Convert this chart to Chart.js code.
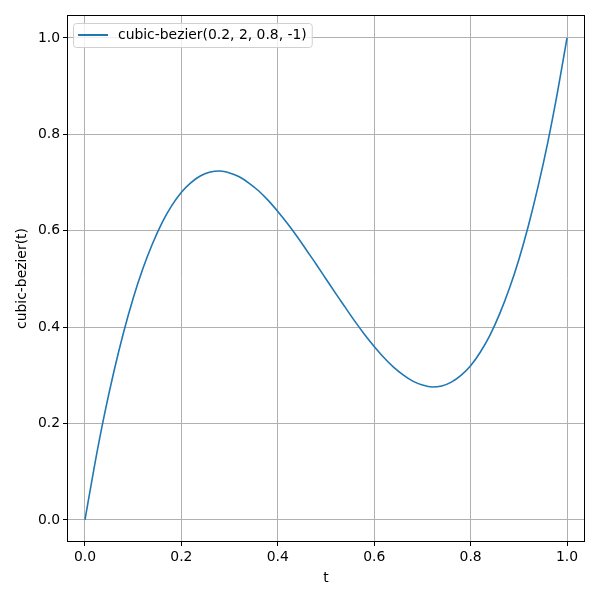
<!DOCTYPE html>
<html>
<head>
<meta charset="utf-8">
<script src="https://cdn.jsdelivr.net/npm/chart.js@4"></script>
<style>
html, body { margin: 0; padding: 0; background: #fff; }
#wrap { width: 600px; height: 600px; }
</style>
</head>
<body>
<div id="wrap"><canvas id="bezierChart" width="600" height="600"></canvas></div>
<script>
// values
const tValues = [0, 0.02, 0.04, 0.06, 0.08, 0.10, 0.12, 0.14, 0.16, 0.18,
  0.20, 0.22, 0.24, 0.26, 0.28, 0.30, 0.32, 0.34, 0.36, 0.38,
  0.40, 0.42, 0.44, 0.46, 0.48, 0.50, 0.52, 0.54, 0.56, 0.58,
  0.60, 0.62, 0.64, 0.66, 0.68, 0.70, 0.72, 0.74, 0.76, 0.78,
  0.80, 0.82, 0.84, 0.86, 0.88, 0.90, 0.92, 0.94, 0.96, 0.98, 1.00];
const yValues = [0, 0.114, 0.217, 0.308, 0.389, 0.460, 0.521, 0.573, 0.617, 0.652,
  0.680, 0.700, 0.714, 0.722, 0.724, 0.720, 0.712, 0.699, 0.683, 0.663,
  0.640, 0.615, 0.588, 0.559, 0.530, 0.500, 0.470, 0.441, 0.412, 0.385,
  0.360, 0.337, 0.317, 0.301, 0.288, 0.280, 0.276, 0.278, 0.286, 0.300,
  0.320, 0.348, 0.383, 0.427, 0.479, 0.540, 0.611, 0.692, 0.783, 0.886, 1.000];
const xTicks = [0, 0.2, 0.4, 0.6, 0.8, 1.0];
const yTicks = [0, 0.2, 0.4, 0.6, 0.8, 1.0];
const seriesLabel = 'cubic-bezier(0.2, 2, 0.8, -1)';

const FONT = 'DejaVu Sans';
const lineColor = '#1f77b4';

// frame + legend drawn inside the plot, like matplotlib
const framePlugin = {
  id: 'frame',
  afterDraw(chart) {
    const c = chart.ctx;
    const a = chart.chartArea;
    c.save();
    c.strokeStyle = '#000';
    c.lineWidth = 1;
    c.strokeRect(Math.round(a.left) + 0.5, Math.round(a.top) + 0.5,
      Math.round(a.right - a.left) - 1, Math.round(a.bottom - a.top) - 1);

    // legend box
    c.font = '13.9px ' + FONT;
    const tw = c.measureText(seriesLabel).width;
    const bx = a.left + 6, by = a.top + 8;
    const bw = tw + 50, bh = 24;
    c.beginPath();
    c.roundRect(bx + 0.5, by + 0.5, bw, bh, 3);
    c.fillStyle = 'rgba(255,255,255,0.8)';
    c.fill();
    c.strokeStyle = '#d0d0d0';
    c.stroke();
    c.beginPath();
    c.moveTo(bx + 5, by + 12);
    c.lineTo(bx + 35, by + 12);
    c.strokeStyle = lineColor;
    c.lineWidth = 2;
    c.stroke();
    c.fillStyle = '#000';
    c.textBaseline = 'middle';
    c.fillText(seriesLabel, bx + 45, by + 12.5);
    c.restore();
  }
};

const ctx = document.getElementById('bezierChart');

new Chart(ctx, {
  type: 'line',
  data: {
    datasets: [{
      label: seriesLabel,
      data: tValues.map((t, i) => ({ x: t, y: yValues[i] })),
      borderColor: lineColor,
      borderWidth: 1.6,
      pointRadius: 0,
      cubicInterpolationMode: 'monotone',
      fill: false
    }]
  },
  options: {
    responsive: false,
    animation: false,
    layout: { padding: { top: 15, right: 15, left: 0, bottom: 0 } },
    plugins: {
      legend: { display: false },
      tooltip: { enabled: false }
    },
    scales: {
      x: {
        type: 'linear',
        min: -0.0373,
        max: 1.0373,
        afterBuildTicks: s => { s.ticks = xTicks.map(v => ({ value: v })); },
        afterFit: s => { s.height = 58; },
        grid: { color: '#b0b0b0', lineWidth: 1, tickColor: '#000', tickLength: 4 },
        border: { display: false },
        ticks: {
          color: '#000',
          padding: 3,
          maxRotation: 0,
          font: { family: FONT, size: 13.9 },
          callback: v => v.toFixed(1)
        },
        title: {
          display: true,
          text: 't',
          color: '#000',
          font: { family: FONT, size: 13.9 },
          padding: { top: 4, bottom: 13 }
        }
      },
      y: {
        type: 'linear',
        min: -0.0457,
        max: 1.0476,
        afterBuildTicks: s => { s.ticks = yTicks.map(v => ({ value: v })); },
        afterFit: s => { s.width = 67; },
        grid: { color: '#b0b0b0', lineWidth: 1, tickColor: '#000', tickLength: 4 },
        border: { display: false },
        ticks: {
          color: '#000',
          padding: 3,
          font: { family: FONT, size: 13.9 },
          callback: v => v.toFixed(1)
        },
        title: {
          display: true,
          text: 'cubic-bezier(t)',
          color: '#000',
          font: { family: FONT, size: 13.9 },
          padding: { top: 14, bottom: 4 }
        }
      }
    }
  },
  plugins: [framePlugin]
});
</script>
</body>
</html>
